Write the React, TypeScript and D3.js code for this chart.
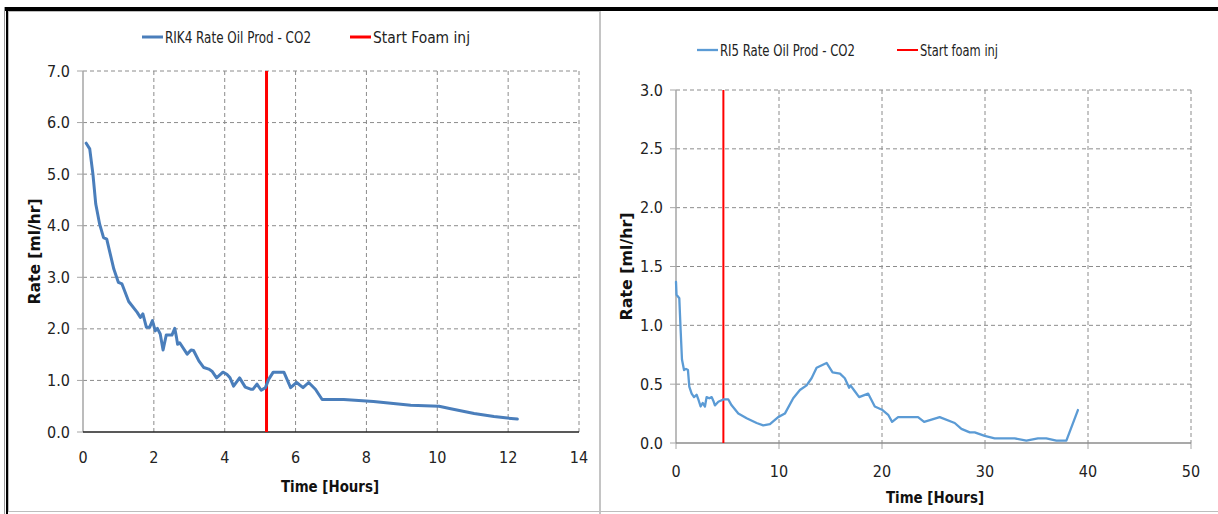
import React from "react";
import * as d3 from "d3";

// Left chart: RIK4
const leftTime = [0.09,0.19,0.28,0.36,0.47,0.58,0.67,0.77,0.87,1.0,1.1,1.29,1.53,1.62,1.69,1.79,1.88,1.96,2.04,2.1,2.18,2.26,2.35,2.51,2.59,2.64,2.67,2.73,2.94,3.05,3.12,3.27,3.41,3.55,3.64,3.77,3.95,4.06,4.15,4.25,4.42,4.58,4.73,4.8,4.91,5.03,5.15,5.24,5.37,5.67,5.86,6.03,6.21,6.37,6.56,6.75,7.36,8.2,9.25,10.05,10.38,11.04,11.6,11.98,12.26];
const leftRate = [5.6,5.49,5.0,4.42,4.03,3.77,3.74,3.45,3.16,2.9,2.87,2.53,2.32,2.22,2.29,2.03,2.03,2.16,1.96,2.01,1.9,1.59,1.88,1.88,2.01,1.83,1.7,1.73,1.51,1.59,1.58,1.38,1.25,1.22,1.18,1.05,1.16,1.12,1.05,0.89,1.05,0.87,0.83,0.83,0.93,0.81,0.86,1.02,1.16,1.16,0.86,0.96,0.86,0.96,0.83,0.63,0.63,0.59,0.52,0.5,0.45,0.36,0.3,0.27,0.25];
const leftFoam = 5.18;
const leftXTicks = [0,2,4,6,8,10,12,14];
const leftYTicks = [0,1,2,3,4,5,6,7];

// Right chart: RI5
const rightTime = [0,0.05,0.32,0.45,0.58,0.78,0.97,1.16,1.29,1.52,1.75,2.0,2.17,2.39,2.59,2.81,2.97,3.23,3.46,3.62,3.78,4.11,4.59,5.08,5.4,6.05,6.86,7.83,8.47,9.12,9.92,10.57,11.38,12.03,12.68,13.16,13.65,14.62,15.2,15.92,16.39,16.81,16.94,17.36,17.78,18.65,19.3,20.05,20.6,20.98,21.56,23.5,24.09,25.6,27.06,27.71,28.52,29.0,29.97,30.94,32.88,34.02,35.14,35.95,36.93,37.9,39.02];
const rightRate = [1.37,1.26,1.23,0.96,0.71,0.62,0.63,0.62,0.48,0.42,0.39,0.41,0.37,0.31,0.34,0.31,0.39,0.38,0.39,0.36,0.32,0.35,0.37,0.37,0.32,0.25,0.21,0.17,0.15,0.16,0.22,0.25,0.38,0.45,0.49,0.55,0.64,0.68,0.6,0.59,0.55,0.47,0.49,0.44,0.39,0.42,0.31,0.28,0.24,0.18,0.22,0.22,0.18,0.22,0.17,0.12,0.09,0.09,0.06,0.04,0.04,0.02,0.04,0.04,0.02,0.02,0.28];
const rightFoam = 4.6;
const rightXTicks = [0,10,20,30,40,50];
const rightYTicks = [0,0.5,1,1.5,2,2.5,3];

const FONT = "'Liberation Sans Narrow', 'DejaVu Sans Condensed', 'Open Sans', sans-serif";

type PanelProps = {
  time: number[]; rate: number[]; foam: number;
  xTicks: number[]; yTicks: number[];
  xRange: [number, number]; yRange: [number, number];
  xMax: number; yMax: number;
  lineColor: string; lineWidth: number; redWidth: number;
  seriesName: string; foamName: string;
  seriesLen: number; foamLen: number;
  legendY: number; legendX1: number; legendX2: number;
  yLabelX: number; yLabelLen: number; xLabelY: number; xTickY: number; xLabelX: number;
  axisColor: string; downTicks: boolean;
};

function Panel(p: PanelProps) {
  const x = d3.scaleLinear().domain([0, p.xMax]).range(p.xRange);
  const y = d3.scaleLinear().domain([0, p.yMax]).range(p.yRange);
  const pts = p.time.map((t, i) => [t, p.rate[i]] as [number, number]);
  const line = d3.line<[number, number]>().x(d => x(d[0])).y(d => y(d[1])).curve(d3.curveLinear);
  const fmtY = (v: number) => v.toFixed(1);
  const top = y(p.yMax), bot = y(0), left = x(0), right = x(p.xMax);
  return (
    <g>
      {p.yTicks.filter(v => v > 0).map(v => (
        <line key={"gy" + v} x1={left} x2={right} y1={y(v)} y2={y(v)} stroke="#8c8c8c" strokeWidth={1} strokeDasharray="4,3" />
      ))}
      {p.xTicks.filter(v => v > 0).map(v => (
        <line key={"gx" + v} x1={x(v)} x2={x(v)} y1={top} y2={bot} stroke="#8c8c8c" strokeWidth={1} strokeDasharray="4,3" />
      ))}
      <line x1={left} x2={left} y1={top} y2={bot} stroke="#a6a6a6" strokeWidth={1.5} />
      {p.yTicks.map(v => (
        <line key={"ty" + v} x1={left - 6} x2={left} y1={y(v)} y2={y(v)} stroke="#a6a6a6" strokeWidth={1} />
      ))}
      {p.downTicks && p.xTicks.map(v => (
        <line key={"tx" + v} x1={x(v)} x2={x(v)} y1={bot} y2={bot + 6} stroke="#a6a6a6" strokeWidth={1} />
      ))}
      <line x1={left} x2={right} y1={bot} y2={bot} stroke={p.axisColor} strokeWidth={1.5} />
      {p.yTicks.map(v => (
        <text key={"ly" + v} x={left - 13} y={y(v)} dy="0.35em" textAnchor="end" fontSize={16} fill="#222" fontFamily={FONT}>{fmtY(v)}</text>
      ))}
      {p.xTicks.map(v => (
        <text key={"lx" + v} x={x(v)} y={p.xTickY} dy="0.35em" textAnchor="middle" fontSize={16} fill="#222" fontFamily={FONT}>{v}</text>
      ))}
      <text x={p.xLabelX} y={p.xLabelY} dy="0.35em" textAnchor="middle" fontSize={16} fontWeight="bold" fill="#111" fontFamily={FONT} textLength={98} lengthAdjust="spacingAndGlyphs">Time [Hours]</text>
      <text transform={`translate(${p.yLabelX},${(top + bot) / 2}) rotate(-90)`} dy="0.35em" textAnchor="middle" fontSize={16} fontWeight="bold" fill="#111" fontFamily={FONT} textLength={p.yLabelLen} lengthAdjust="spacingAndGlyphs">Rate [ml/hr]</text>
      <line x1={x(p.foam)} x2={x(p.foam)} y1={y(p.yMax)} y2={y(0)} stroke="#ff0000" strokeWidth={p.redWidth} />
      <path d={line(pts) || ""} fill="none" stroke={p.lineColor} strokeWidth={p.lineWidth} strokeLinejoin="round" strokeLinecap="round" />
      <line x1={p.legendX1} x2={p.legendX1 + 21} y1={p.legendY} y2={p.legendY} stroke={p.lineColor} strokeWidth={p.lineWidth} />
      <text x={p.legendX1 + 23} y={p.legendY} dy="0.35em" fontSize={16} fill="#222" fontFamily={FONT} textLength={p.seriesLen} lengthAdjust="spacingAndGlyphs">{p.seriesName}</text>
      <line x1={p.legendX2} x2={p.legendX2 + 21} y1={p.legendY} y2={p.legendY} stroke="#ff0000" strokeWidth={p.redWidth} />
      <text x={p.legendX2 + 23} y={p.legendY} dy="0.35em" fontSize={16} fill="#222" fontFamily={FONT} textLength={p.foamLen} lengthAdjust="spacingAndGlyphs">{p.foamName}</text>
    </g>
  );
}

export default function App() {
  return (
    <svg width={1218} height={514} style={{ position: "absolute", left: 0, top: 0, background: "#fff" }}>
      <rect x={0} y={0} width={1218} height={514} fill="#fff" />
      {/* frames */}
      <rect x={5} y={7} width={1213} height={4} fill="#000" />
      <line x1={4.5} x2={4.5} y1={7} y2={514} stroke="#999" strokeWidth={1} />
      <rect x={6} y={7} width={2} height={507} fill="#000" />
      <rect x={8.5} y={11.5} width={591} height={500} fill="none" stroke="#bdbdbd" strokeWidth={1} />
      <line x1={600} x2={600} y1={11} y2={514} stroke="#c4c4c4" strokeWidth={2} />
      <line x1={600} x2={1218} y1={511.5} y2={511.5} stroke="#bdbdbd" strokeWidth={1} />
      <Panel
        time={leftTime} rate={leftRate} foam={leftFoam}
        xTicks={leftXTicks} yTicks={leftYTicks}
        xRange={[83, 579]} yRange={[432, 71]} xMax={14} yMax={7}
        lineColor="#4a7ebb" lineWidth={3} redWidth={3}
        seriesName="RIK4 Rate Oil Prod - CO2" foamName="Start Foam inj"
        seriesLen={146} foamLen={97}
        legendY={37} legendX1={142} legendX2={350}
        yLabelX={34} yLabelLen={106} xLabelY={486} xTickY={457} xLabelX={330}
        axisColor="#222" downTicks={false}
      />
      <Panel
        time={rightTime} rate={rightRate} foam={rightFoam}
        xTicks={rightXTicks} yTicks={rightYTicks}
        xRange={[676, 1191]} yRange={[443, 90]} xMax={50} yMax={3}
        lineColor="#5b9bd5" lineWidth={2.3} redWidth={2}
        seriesName="RI5 Rate Oil Prod - CO2" foamName="Start foam inj"
        seriesLen={135} foamLen={78}
        legendY={50} legendX1={697} legendX2={897}
        yLabelX={626} yLabelLen={108} xLabelY={497} xTickY={471} xLabelX={935}
        axisColor="#8c8c8c" downTicks={true}
      />
    </svg>
  );
}
